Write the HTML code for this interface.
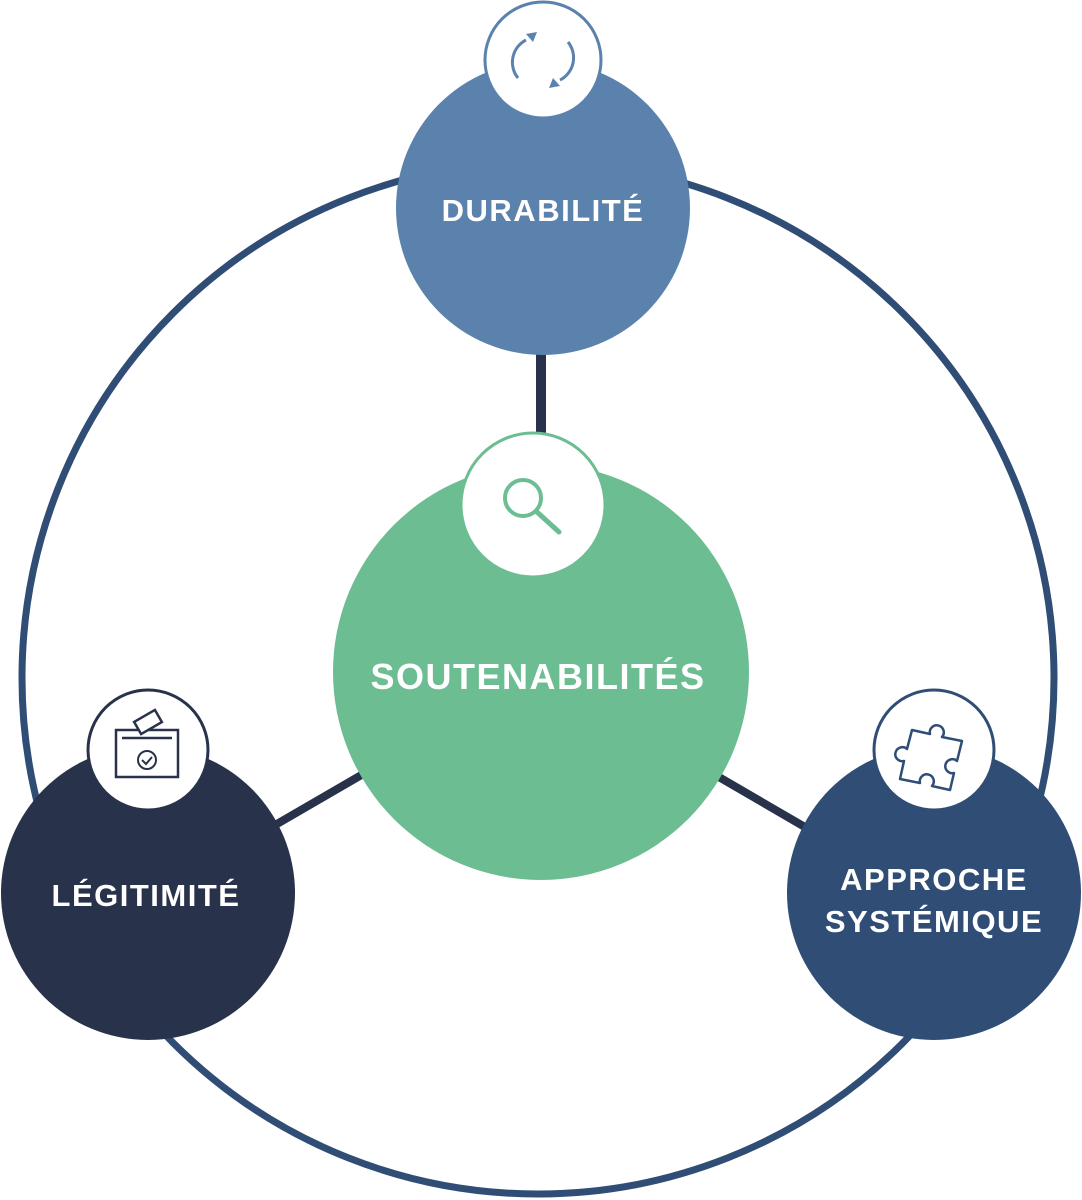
<!DOCTYPE html>
<html><head><meta charset="utf-8"><style>
html,body{margin:0;padding:0;background:#fff;}
svg{display:block}
text{font-family:"Liberation Sans",sans-serif;font-weight:bold;fill:#fff;text-anchor:middle;letter-spacing:1.5px}
</style></head><body>
<svg width="1082" height="1200" viewBox="0 0 1082 1200">
<circle cx="538" cy="678" r="516" fill="none" stroke="#2f4d75" stroke-width="7"/>
<line x1="541" y1="350" x2="541" y2="440" stroke="#28324a" stroke-width="10"/>
<line x1="270" y1="828" x2="370" y2="770" stroke="#28324a" stroke-width="8"/>
<line x1="712" y1="773" x2="810" y2="830" stroke="#28324a" stroke-width="8"/>
<!-- Durabilite -->
<circle cx="543" cy="208" r="147" fill="#5b82ad"/>
<circle cx="543" cy="60" r="58" fill="#fff" stroke="#5b82ad" stroke-width="3"/>
<path d="M526 40 A25 25 0 0 0 518 78" fill="none" stroke="#5b82ad" stroke-width="3"/>
<path d="M560 80 A25 25 0 0 0 568 42" fill="none" stroke="#5b82ad" stroke-width="3"/>
<path d="M526 34 l11 -2 -4 10z M560 86 l-11 2 4 -10z" fill="#5b82ad"/>
<text x="543" y="221" font-size="31">DURABILITÉ</text>
<!-- Center -->
<circle cx="541" cy="672" r="208" fill="#6dbd93"/>
<circle cx="533" cy="505" r="72" fill="#fff" stroke="#6dbd93" stroke-width="3"/>
<circle cx="523" cy="498" r="18" fill="none" stroke="#6dbd93" stroke-width="4"/>
<line x1="537" y1="512" x2="559" y2="532" stroke="#6dbd93" stroke-width="5" stroke-linecap="round"/>
<text x="538" y="689" font-size="36">SOUTENABILITÉS</text>
<!-- Legitimite -->
<circle cx="148" cy="893" r="147" fill="#28324a"/>
<circle cx="148" cy="750" r="60" fill="#fff" stroke="#28324a" stroke-width="3"/>
<rect x="116" y="730" width="62" height="47" fill="none" stroke="#28324a" stroke-width="2.5"/>
<line x1="122" y1="738" x2="172" y2="738" stroke="#28324a" stroke-width="2.5"/>
<rect x="136" y="715" width="24" height="14" transform="rotate(-30 148 722)" fill="#fff" stroke="#28324a" stroke-width="2.5"/>
<circle cx="147" cy="760" r="9" fill="none" stroke="#28324a" stroke-width="2"/>
<path d="M142 760 l4 4 6 -7" fill="none" stroke="#28324a" stroke-width="2"/>
<text x="146" y="906" font-size="31">LÉGITIMITÉ</text>
<!-- Approche -->
<circle cx="934" cy="893" r="147" fill="#2f4d75"/>
<circle cx="934" cy="750" r="60" fill="#fff" stroke="#2f4d75" stroke-width="3"/>
<path d="M912 730 l18 4 a7 7 0 1 1 12 3 l20 4 -5 20 a7 7 0 1 0 -3 12 l-4 17 -18 -4 a7 7 0 1 0 -12 -3 l-20 -4 4 -18 a7 7 0 1 1 3 -12z" fill="none" stroke="#2f4d75" stroke-width="2.5" stroke-linejoin="round"/>
<text x="934" y="890" font-size="31">APPROCHE</text>
<text x="934" y="932" font-size="31">SYSTÉMIQUE</text>
</svg>
</body></html>
